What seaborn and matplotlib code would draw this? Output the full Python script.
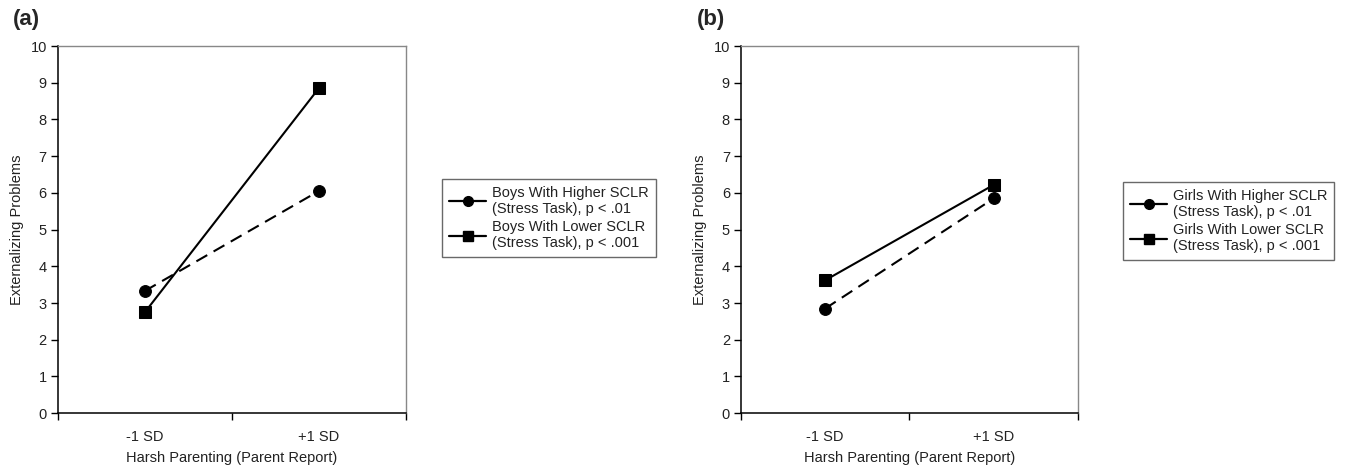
import pandas as pd
import numpy as np
import matplotlib.pyplot as plt
import seaborn as sns
from matplotlib.lines import Line2D

# data
levels = ['-1 SD', '+1 SD']
boys_higher = [3.33, 6.05]
boys_lower = [2.75, 8.85]
girls_higher = [2.85, 5.85]
girls_lower = [3.62, 6.22]
boys_labels = ['Boys With Higher SCLR\n(Stress Task), p < .01',
               'Boys With Lower SCLR\n(Stress Task), p < .001']
girls_labels = ['Girls With Higher SCLR\n(Stress Task), p < .01',
                'Girls With Lower SCLR\n(Stress Task), p < .001']

sns.set_style('white')
plt.rcParams['font.family'] = ['Liberation Sans', 'DejaVu Sans']
fs = 10.5

fig = plt.figure(figsize=(13.48, 4.70), dpi=100)
ax_a = fig.add_axes([0.043, 0.121, 0.258, 0.781])
ax_b = fig.add_axes([0.5497, 0.121, 0.25, 0.781])


def make_df(higher, lower, labels):
    rows = []
    for name, vals in zip(labels, [higher, lower]):
        for i, v in enumerate(vals):
            rows.append({'pos': i + 0.5, 'level': levels[i], 'value': v, 'group': name})
    return pd.DataFrame(rows)


def draw(ax, higher, lower, labels, tag, legend_box):
    df = make_df(higher, lower, labels)
    sns.lineplot(data=df, x='pos', y='value', hue='group', style='group',
                 palette=['black', 'black'],
                 markers={labels[0]: 'o', labels[1]: 's'},
                 dashes={labels[0]: (6, 3.5), labels[1]: ''},
                 markersize=8.5, linewidth=1.5, markeredgecolor='black',
                 legend=False, ax=ax)
    ax.set_xlim(0, 2)
    ax.set_ylim(0, 10)
    ax.set_yticks(range(0, 11))
    ax.set_xticks([0.5, 1.5])
    ax.set_xticklabels(levels)
    ax.set_xticks([0, 1, 2], minor=True)
    ax.tick_params(axis='x', which='major', length=0, pad=12, labelsize=fs, colors='#222')
    ax.tick_params(axis='x', which='minor', length=5, width=1, color='black', direction='out')
    ax.tick_params(axis='y', length=5, width=1, color='black', direction='out', labelsize=fs,
                   labelcolor='#222', pad=3)
    ax.xaxis.set_ticks_position('bottom')
    ax.yaxis.set_ticks_position('left')
    for s in ['left', 'bottom']:
        ax.spines[s].set_color('black')
        ax.spines[s].set_linewidth(1.1)
    for s in ['top', 'right']:
        ax.spines[s].set_color('#888')
        ax.spines[s].set_linewidth(1.0)
    ax.set_xlabel('Harsh Parenting (Parent Report)', fontsize=fs, color='#222', labelpad=5)
    ax.set_ylabel('Externalizing Problems', fontsize=fs, color='#222', labelpad=5)
    ax.text(-0.13, 1.045, tag, transform=ax.transAxes, fontsize=16, fontweight='bold',
            ha='left', va='bottom')
    handles = [Line2D([], [], color='black', lw=1.6, marker='o', markersize=7),
               Line2D([], [], color='black', lw=1.6, marker='s', markersize=7)]
    leg = fig.legend(handles, labels, loc='upper left', bbox_to_anchor=legend_box,
                     frameon=True, fancybox=False, edgecolor='#444', fontsize=fs,
                     handlelength=2.6, handletextpad=0.4, borderpad=0.45,
                     labelspacing=0.3, borderaxespad=0)
    leg.get_frame().set_linewidth(1.0)
    for t in leg.get_texts():
        t.set_color('#222')


draw(ax_a, boys_higher, boys_lower, boys_labels, '(a)', (442 / 1348, 1 - 179 / 470))
draw(ax_b, girls_higher, girls_lower, girls_labels, '(b)', (1123 / 1348, 1 - 182 / 470))

fig.savefig('out.png', dpi=100)
plt.close()
